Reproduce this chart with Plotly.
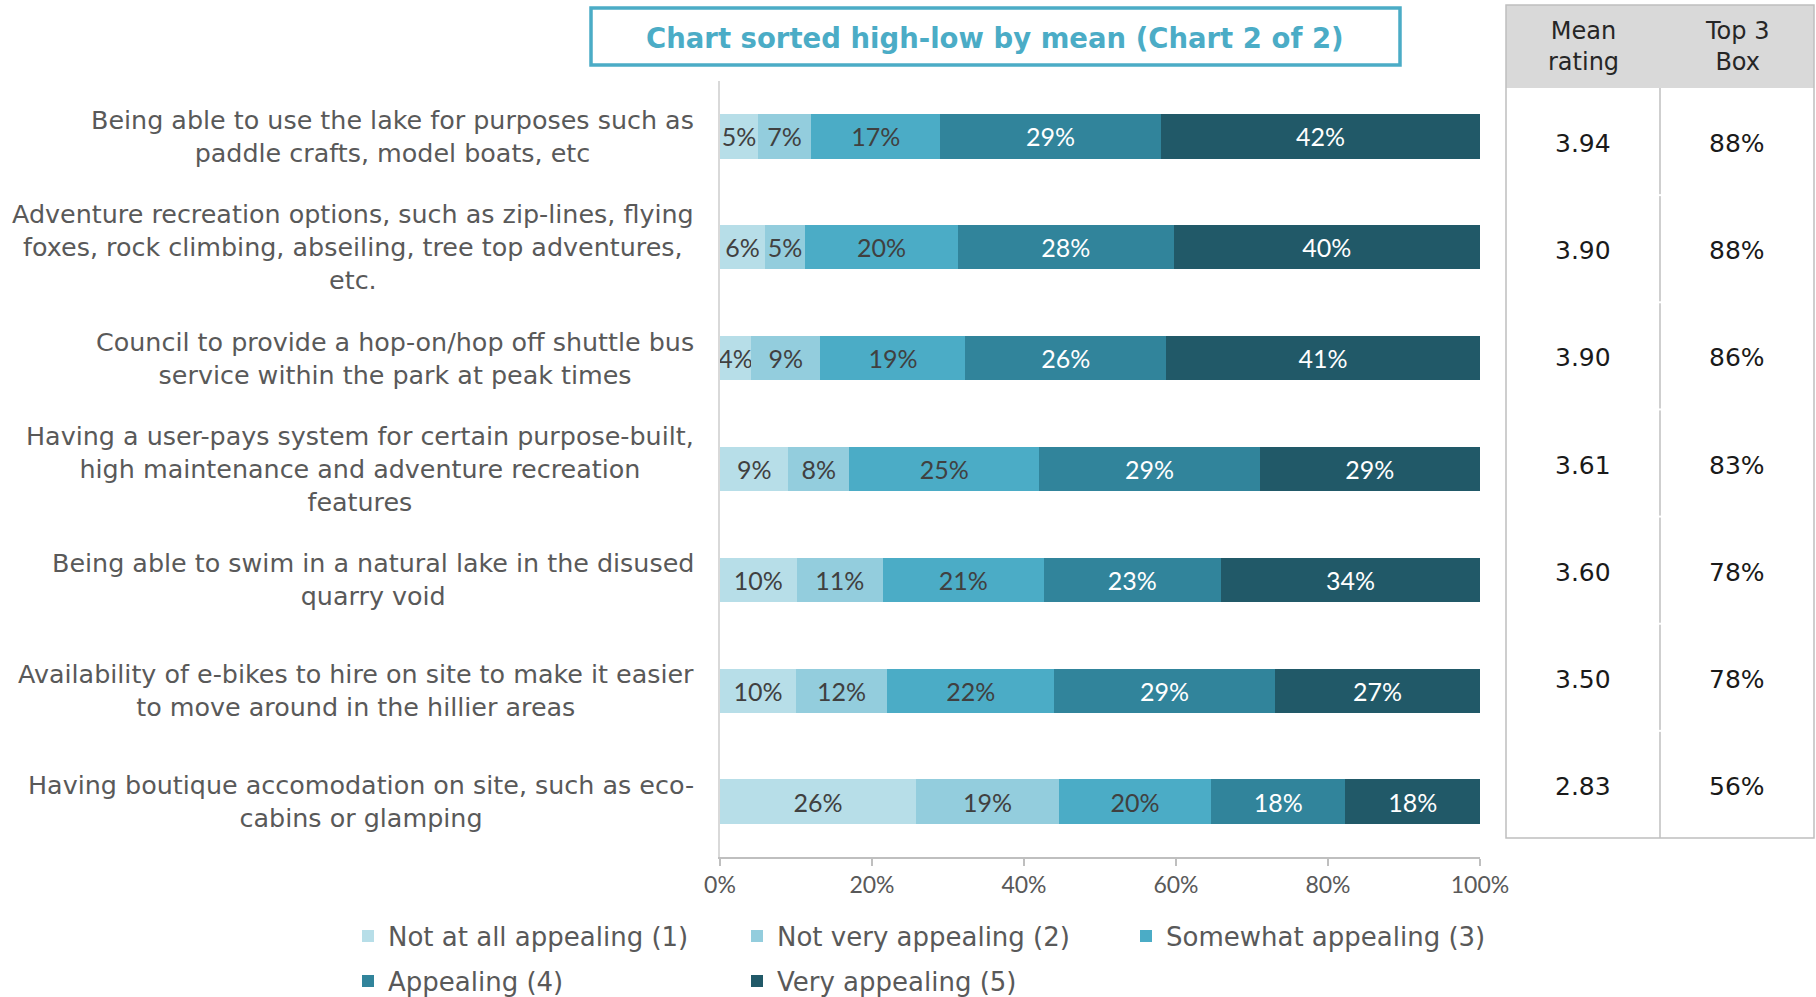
import plotly.graph_objects as go

# ---------------- data ----------------
categories = [
    "Being able to use the lake for purposes such as<br>paddle crafts, model boats, etc",
    "Adventure recreation options, such as zip-lines, flying<br>foxes, rock climbing, abseiling, tree top adventures,<br>etc.",
    "Council to provide a hop-on/hop off shuttle bus<br>service within the park at peak times",
    "Having a user-pays system for certain purpose-built,<br>high maintenance and adventure recreation<br>features",
    "Being able to swim in a natural lake in the disused<br>quarry void",
    "Availability of e-bikes to hire on site to make it easier<br>to move around in the hillier areas",
    "Having boutique accomodation on site, such as eco-<br>cabins or glamping",
]
series_names = [
    "Not at all appealing (1)",
    "Not very appealing (2)",
    "Somewhat appealing (3)",
    "Appealing (4)",
    "Very appealing (5)",
]
not_at_all = [5.0, 5.9, 4.1, 9.0, 10.1, 10.0, 25.8]
not_very = [7.0, 5.3, 9.1, 8.0, 11.3, 12.0, 18.8]
somewhat = [17.0, 20.1, 19.1, 25.0, 21.2, 22.0, 20.0]
appealing = [29.0, 28.4, 26.4, 29.0, 23.3, 29.0, 17.7]
very = [42.0, 40.3, 41.3, 29.0, 34.1, 27.0, 17.7]
mean_rating = ["3.94", "3.90", "3.90", "3.61", "3.60", "3.50", "2.83"]
top3_box = ["88%", "88%", "86%", "83%", "78%", "78%", "56%"]
x_tick_vals = [0, 20, 40, 60, 80, 100]
x_tick_text = ["0%", "20%", "40%", "60%", "80%", "100%"]
title_text = "Chart sorted high-low by mean (Chart 2 of 2)"
table_headers = ["Mean<br>rating", "Top 3<br>Box"]

series_values = [not_at_all, not_very, somewhat, appealing, very]
colors = ["#B7DEE8", "#93CDDD", "#4BACC6", "#31849B", "#215968"]
text_colors = ["#404040", "#404040", "#404040", "#FFFFFF", "#FFFFFF"]

# ---------------- geometry (page pixels) ----------------
W, H = 1816, 997
L, R, T, B = 720, 1480, 81, 857          # plot area
PW, PH = R - L, B - T


def px(x):
    return (x - L) / PW


def py(y):
    return (B - y) / PH


FONT = "'DejaVu Sans', sans-serif"
NUMFONT = "Lato, sans-serif"

fig = go.Figure()
for i, (name, vals) in enumerate(zip(series_names, series_values)):
    fig.add_trace(go.Bar(
        y=categories, x=vals, name=name, orientation="h",
        marker=dict(color=colors[i], line=dict(width=0)),
        texttemplate="%{x:.0f}%", textposition="inside",
        insidetextanchor="middle", textangle=0,
        textfont=dict(color=text_colors[i], size=25, family=NUMFONT),
        legend="legend" if i < 3 else "legend2",
        hoverinfo="skip",
    ))

annotations = []
shapes = []

# category labels (centered multi-line blocks, right-aligned next to axis)
for c in categories:
    annotations.append(dict(
        x=px(696), y=c, xref="paper", yref="y", text=c, showarrow=False,
        xanchor="right", yanchor="middle", align="center",
        font=dict(size=25.4, color="#595959", family=FONT),
    ))

# title box
shapes.append(dict(type="rect", xref="paper", yref="paper",
                   x0=px(591), x1=px(1400), y0=py(65), y1=py(8),
                   line=dict(color="#4BACC6", width=3.5), fillcolor="white"))
annotations.append(dict(
    x=px(995), y=py(38), xref="paper", yref="paper", text="<b>" + title_text + "</b>",
    showarrow=False, xanchor="center", yanchor="middle",
    font=dict(size=27.5, color="#4BACC6", family=FONT),
))

# table
tx0, tx1, tmid = 1506, 1814, 1660
ty0, thead, ty1 = 5, 88, 838
n_rows = len(categories)
row_h = (ty1 - thead) / n_rows
shapes.append(dict(type="rect", xref="paper", yref="paper",
                   x0=px(tx0), x1=px(tx1), y0=py(thead), y1=py(ty0),
                   line=dict(width=0), fillcolor="#D9D9D9"))
shapes.append(dict(type="rect", xref="paper", yref="paper",
                   x0=px(tx0), x1=px(tx1), y0=py(ty1), y1=py(ty0),
                   line=dict(color="#BFBFBF", width=1.5), fillcolor="rgba(0,0,0,0)"))
shapes.append(dict(type="line", xref="paper", yref="paper",
                   x0=px(tmid), x1=px(tmid), y0=py(ty1), y1=py(thead),
                   line=dict(color="#BFBFBF", width=1.5)))
# faint white row separators (visible only as gaps in the column divider)
for k in range(1, n_rows):
    yy = thead + row_h * k
    shapes.append(dict(type="line", xref="paper", yref="paper",
                       x0=px(tmid - 6), x1=px(tmid + 6), y0=py(yy), y1=py(yy),
                       line=dict(color="white", width=2)))
col_centers = [px((tx0 + tmid) / 2), px((tmid + tx1) / 2)]
for xc, htxt in zip(col_centers, table_headers):
    annotations.append(dict(
        x=xc, y=py(47), xref="paper", yref="paper", text=htxt, showarrow=False,
        xanchor="center", yanchor="middle", align="center",
        font=dict(size=24, color="#262626", family=FONT),
    ))
for k, (m, t3) in enumerate(zip(mean_rating, top3_box)):
    yc = thead + row_h * (k + 0.5) + 2
    for xc, v in zip(col_centers, [m, t3]):
        annotations.append(dict(
            x=xc, y=py(yc), xref="paper", yref="paper", text=v, showarrow=False,
            xanchor="center", yanchor="middle",
            font=dict(size=25, color="#1A1A1A", family=FONT),
        ))

legend_common = dict(orientation="h", xref="paper", yref="paper",
                     xanchor="left", yanchor="middle",
                     entrywidth=344, entrywidthmode="pixels", traceorder="normal",
                     font=dict(size=26, color="#595959", family=FONT),
                     itemclick=False, bgcolor="rgba(0,0,0,0)")

fig.update_layout(
    width=W, height=H,
    margin=dict(l=L, r=W - R, t=T, b=H - B, autoexpand=False),
    paper_bgcolor="white", plot_bgcolor="white",
    barmode="stack", bargap=0.6,
    uniformtext=dict(minsize=25, mode="show"),
    font=dict(family=FONT, color="#595959"),
    showlegend=True,
    hovermode=False,
    legend=dict(x=px(348), y=py(936), **legend_common),
    legend2=dict(x=px(348), y=py(981), **legend_common),
    annotations=annotations,
    shapes=shapes,
)
fig.update_xaxes(range=[0, 100], tickvals=x_tick_vals, ticktext=x_tick_text,
                 ticks="outside", ticklen=7, tickcolor="#BFBFBF", tickwidth=1.5,
                 showline=True, linecolor="#BFBFBF", linewidth=1.5,
                 showgrid=False, zeroline=False, fixedrange=True,
                 tickfont=dict(size=23, color="#595959", family=NUMFONT))
fig.update_yaxes(categoryorder="array", categoryarray=categories,
                 range=[6.5, -0.5], showticklabels=False, ticks="",
                 showline=True, linecolor="#D9D9D9", linewidth=1.5,
                 showgrid=False, zeroline=False, fixedrange=True)

fig.write_html(
    "out.html",
    config={"displayModeBar": False},
    post_script="document.body.style.margin='0';document.body.style.overflow='hidden';",
)
